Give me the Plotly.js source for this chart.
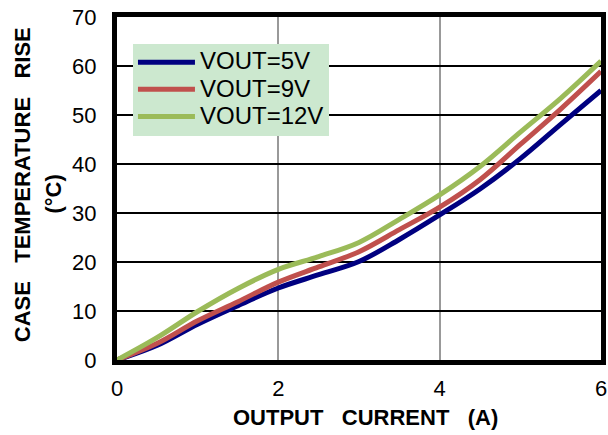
<!DOCTYPE html>
<html>
<head>
<meta charset="utf-8">
<script src="https://cdn.plot.ly/plotly-3.0.1.min.js"></script>
<style>html,body{margin:0;padding:0;background:#fff;}#chart{width:608px;height:435px;}</style>
</head>
<body>
<div id="chart"></div>
<script>
const current = [0, 0.5, 1, 1.5, 2, 2.5, 3, 3.5, 4, 4.5, 5, 5.5, 6];
const vout5 = [0, 3.0, 7.3, 11.1, 14.7, 17.4, 20.1, 24.6, 29.6, 34.9, 41.1, 48.1, 55.0];
const vout9 = [0, 3.4, 8.0, 11.9, 15.9, 19.0, 22.1, 26.6, 31.2, 36.8, 44.0, 51.2, 58.9];
const vout12 = [0, 4.6, 9.9, 14.6, 18.5, 21.1, 24.0, 28.7, 33.7, 39.5, 46.5, 53.4, 61.0];
const seriesNames = ['VOUT=5V', 'VOUT=9V', 'VOUT=12V'];
const seriesColors = ['#000080', '#C0504D', '#9BBB59'];
const xTitle = 'OUTPUT   CURRENT   (A)';
const yTitle1 = 'CASE   TEMPERATURE   RISE';
const yTitle2 = '(°C)';

const FONT = 'Liberation Sans, Arial, sans-serif';
const nb = s => s.replace(/ /g, '\u00a0');
const data = [vout5, vout9, vout12].map((ys, i) => ({
  x: current, y: ys, type: 'scatter', mode: 'lines',
  name: '<span style="font-size:24px">' + seriesNames[i] + '</span>',
  line: {color: seriesColors[i], width: 5, shape: 'spline', smoothing: 1},
  hoverinfo: 'skip'
}));

const layout = {
  width: 608, height: 435,
  margin: {l: 117, r: 7, t: 17, b: 75},
  paper_bgcolor: '#fff', plot_bgcolor: '#fff',
  font: {family: FONT, color: '#000'},
  showlegend: true,
  legend: {
    x: 0.033, y: 0.922, xanchor: 'left', yanchor: 'top',
    bgcolor: '#CCE8CF', borderwidth: 0,
    font: {family: FONT, size: 18.5, color: '#000'},
    itemwidth: 57, tracegroupgap: 0
  },
  xaxis: {
    range: [0, 6], dtick: 2, tick0: 0,
    showgrid: true, gridcolor: '#999999', gridwidth: 2,
    showline: true, linecolor: '#000', linewidth: 5, mirror: true,
    zeroline: false, ticks: '', ticklabelstandoff: 5,
    tickfont: {family: FONT, size: 22, color: '#000'},
    fixedrange: true
  },
  yaxis: {
    range: [0, 70], dtick: 10, tick0: 0,
    showgrid: true, gridcolor: '#000', gridwidth: 2,
    showline: true, linecolor: '#000', linewidth: 5, mirror: true,
    zeroline: false, ticks: '', ticklabelstandoff: 11,
    tickfont: {family: FONT, size: 22, color: '#000'},
    fixedrange: true
  },
  annotations: [
    {text: '<b>' + nb(xTitle) + '</b>', xref: 'paper', yref: 'paper', x: 0.514, y: -0.169,
     xanchor: 'center', yanchor: 'middle', showarrow: false, font: {family: FONT, size: 22, color: '#000'}},
    {text: '<b>' + nb(yTitle1) + '</b>', xref: 'paper', yref: 'paper', x: -0.196, y: 0.51,
     xanchor: 'center', yanchor: 'middle', textangle: -90, showarrow: false, font: {family: FONT, size: 22, color: '#000'}},
    {text: '<b>' + yTitle2 + '</b>', xref: 'paper', yref: 'paper', x: -0.131, y: 0.484,
     xanchor: 'center', yanchor: 'middle', textangle: -90, showarrow: false, font: {family: FONT, size: 22, color: '#000'}}
  ]
};

Plotly.newPlot('chart', data, layout, {displayModeBar: false, staticPlot: true});
</script>
</body>
</html>
